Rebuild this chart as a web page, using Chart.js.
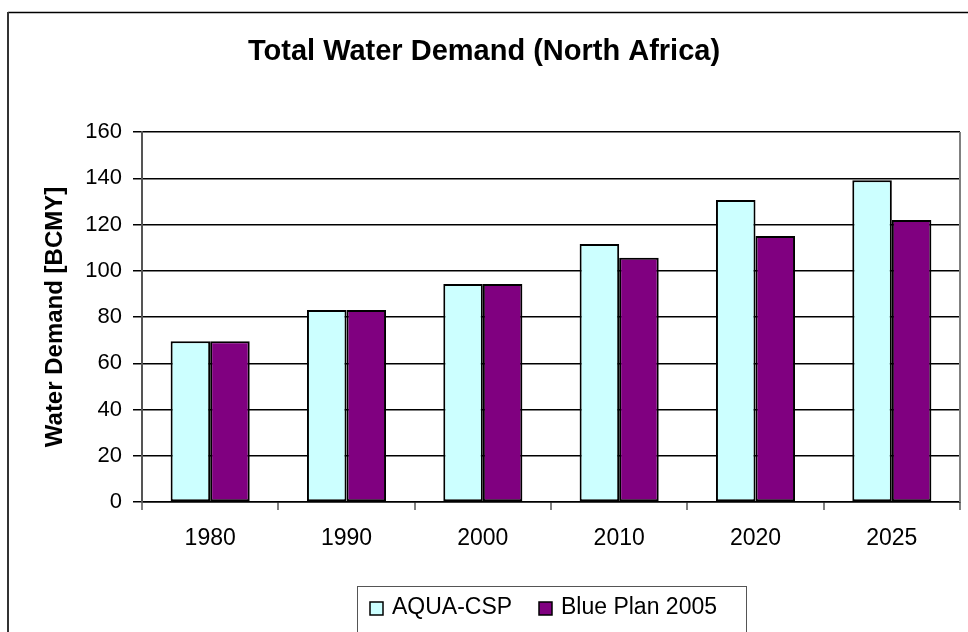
<!DOCTYPE html>
<html>
<head>
<meta charset="utf-8">
<script src="https://cdn.jsdelivr.net/npm/chart.js@4/dist/chart.umd.min.js"></script>
<style>
  html, body { margin: 0; padding: 0; background: #ffffff; }
  #wrap { width: 968px; height: 632px; position: relative; }
</style>
</head>
<body>
<div id="wrap"><canvas id="chart" width="968" height="632"></canvas></div>
<script>
// Years on the category axis
const years = ['1980', '1990', '2000', '2010', '2020', '2025'];
// Total water demand, billion cubic metres per year
const aquaCsp = [69.5, 83, 94.3, 111.6, 130.6, 139.1];
const bluePlan2005 = [69.5, 83, 94.3, 105.6, 115, 121.9];
// Value axis ticks
const yTicks = [0, 20, 40, 60, 80, 100, 120, 140, 160];

const chartTitle = 'Total Water Demand (North Africa)';
const yTitle = 'Water Demand [BCMY]';
const FONT = 'Arial, "Liberation Sans", sans-serif';

// Frame, heading, right plot border and boxed legend
const decorations = {
  id: 'decorations',
  beforeDraw(chart) {
    const ctx = chart.ctx;
    ctx.save();
    ctx.fillStyle = '#ffffff';
    ctx.fillRect(0, 0, chart.width, chart.height);
    ctx.restore();
  },
  afterDraw(chart) {
    const ctx = chart.ctx;
    const area = chart.chartArea;
    ctx.save();

    // outer frame (top and left edges)
    ctx.strokeStyle = '#000000';
    ctx.lineWidth = 1.5;
    ctx.beginPath();
    ctx.moveTo(8, 12.5);
    ctx.lineTo(chart.width + 2, 12.5);
    ctx.stroke();
    ctx.strokeStyle = '#333333';
    ctx.lineWidth = 2;
    ctx.beginPath();
    ctx.moveTo(8, 12);
    ctx.lineTo(8, chart.height + 2);
    ctx.stroke();

    // right border of the plot area
    ctx.strokeStyle = '#808080';
    ctx.lineWidth = 2;
    ctx.beginPath();
    ctx.moveTo(area.right, area.top);
    ctx.lineTo(area.right, area.bottom);
    ctx.stroke();

    // heading
    ctx.fillStyle = '#000000';
    ctx.font = 'bold 29px ' + FONT;
    ctx.textAlign = 'center';
    ctx.textBaseline = 'middle';
    ctx.fillText(chartTitle, 484, 52);

    // legend box
    ctx.strokeStyle = '#555555';
    ctx.lineWidth = 1;
    ctx.strokeRect(357.5, 586.5, 389, 60);

    ctx.font = '23px ' + FONT;
    ctx.textAlign = 'left';
    ctx.textBaseline = 'middle';
    const items = chart.data.datasets;
    const markerX = [370, 539];
    items.forEach((ds, i) => {
      const mx = markerX[i];
      ctx.fillStyle = ds.backgroundColor;
      ctx.fillRect(mx, 602, 13, 13);
      ctx.strokeStyle = '#000000';
      ctx.lineWidth = 1.5;
      ctx.strokeRect(mx, 602, 13, 13);
      ctx.fillStyle = '#000000';
      ctx.fillText(ds.label, mx + 22, 608);
    });
    ctx.restore();
  }
};

new Chart(document.getElementById('chart'), {
  type: 'bar',
  data: {
    labels: years,
    datasets: [
      {
        label: 'AQUA-CSP',
        data: aquaCsp,
        backgroundColor: '#CCFFFF',
        borderColor: '#000000',
        borderWidth: 2,
        borderSkipped: false
      },
      {
        label: 'Blue Plan 2005',
        data: bluePlan2005,
        backgroundColor: '#800080',
        borderColor: '#000000',
        borderWidth: 2,
        borderSkipped: false
      }
    ]
  },
  options: {
    responsive: false,
    animation: false,
    devicePixelRatio: 1,
    layout: { padding: { top: 132, right: 8, bottom: 0, left: 0 } },
    datasets: {
      bar: { categoryPercentage: 0.58, barPercentage: 1.0 }
    },
    plugins: {
      legend: { display: false },
      title: { display: false },
      tooltip: { enabled: false }
    },
    scales: {
      x: {
        offset: true,
        afterFit(scale) { scale.height = 130; },
        grid: {
          offset: true,
          drawOnChartArea: false,
          drawTicks: true,
          tickLength: 8,
          color: '#808080',
          lineWidth: 2
        },
        border: { display: true, color: '#000000', width: 1.5 },
        ticks: {
          color: '#000000',
          font: { family: FONT, size: 23 },
          padding: 15,
          maxRotation: 0
        }
      },
      y: {
        min: 0,
        max: 160,
        afterFit(scale) { scale.width = 142; },
        afterBuildTicks(scale) {
          scale.ticks = yTicks.map(v => ({ value: v }));
        },
        grid: {
          color: '#000000',
          lineWidth: 1.5,
          drawTicks: true,
          tickLength: 9
        },
        border: { display: true, color: '#555555', width: 2 },
        ticks: {
          color: '#000000',
          font: { family: FONT, size: 22 },
          padding: 11
        },
        title: {
          display: true,
          text: yTitle,
          color: '#000000',
          font: { family: FONT, size: 24, weight: 'bold' },
          padding: { top: 41, bottom: 0 }
        }
      }
    }
  },
  plugins: [decorations]
});
</script>
</body>
</html>
